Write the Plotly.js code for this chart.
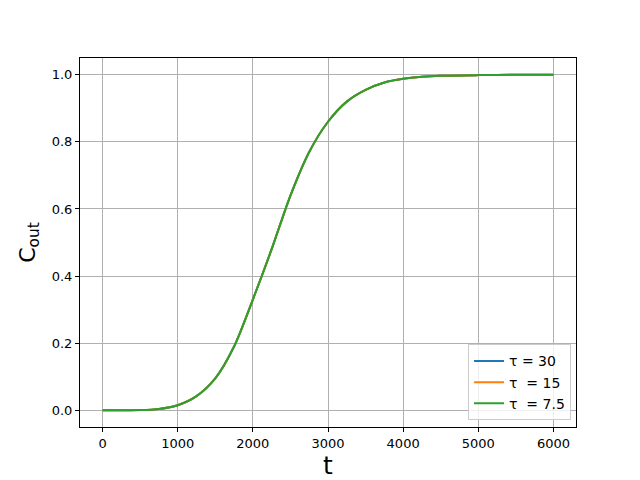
<!DOCTYPE html>
<html>
<head>
<meta charset="utf-8">
<script src="https://cdn.plot.ly/plotly-3.0.1.min.js"></script>
<style>html,body{margin:0;padding:0;background:#fff;}#chart{width:640px;height:480px;}</style>
</head>
<body>
<div id="chart"></div>
<script>
var t = [0, 250, 500, 750, 1000, 1250, 1500, 1750, 2000, 2250, 2500, 2750, 3000, 3250, 3500, 3750, 4000, 4250, 4500, 5000, 5500, 6000];
var cTau30  = [0, 0, 0.0005, 0.004, 0.015, 0.042, 0.095, 0.19, 0.33, 0.48, 0.64, 0.77, 0.86, 0.92, 0.955, 0.977, 0.988, 0.994, 0.997, 0.999, 1.0, 1.0];
var cTau15  = [0, 0, 0.0005, 0.004, 0.015, 0.042, 0.095, 0.19, 0.33, 0.48, 0.64, 0.77, 0.86, 0.92, 0.955, 0.977, 0.988, 0.994, 0.997, 0.999, 1.0, 1.0];
var cTau7_5 = [0, 0, 0.0005, 0.004, 0.015, 0.042, 0.095, 0.19, 0.33, 0.48, 0.64, 0.77, 0.86, 0.92, 0.955, 0.977, 0.988, 0.994, 0.997, 0.999, 1.0, 1.0];
var names = ["τ = 30", "τ\u00a0 = 15", "τ\u00a0 = 7.5"];
var colors = ["#1f77b4", "#ff7f0e", "#2ca02c"];
var series = [cTau30, cTau15, cTau7_5];

var data = series.map(function (ys, i) {
  return {
    x: t, y: ys, name: names[i], type: "scatter", mode: "lines",
    line: {color: colors[i], width: 2, shape: "spline", smoothing: 0.8}
  };
});

var axisCommon = {
  showline: true, mirror: true, linecolor: "#000", linewidth: 1,
  ticks: "outside", ticklen: 4, tickcolor: "#000", tickwidth: 1,
  showgrid: true, gridcolor: "#b0b0b0", gridwidth: 1, zeroline: false,
  tickfont: {family: "DejaVu Sans", size: 13, color: "#000"}
};

var layout = {
  width: 640, height: 480,
  paper_bgcolor: "#fff", plot_bgcolor: "#fff",
  margin: {l: 80, r: 64, t: 58, b: 53},
  showlegend: true,
  xaxis: Object.assign({}, axisCommon, {
    range: [-300, 6300], tickvals: [0, 1000, 2000, 3000, 4000, 5000, 6000],
    ticktext: ["0", "1000", "2000", "3000", "4000", "5000", "6000"],
    title: {text: "t", font: {family: "DejaVu Sans", size: 25, color: "#000"}, standoff: 6}
  }),
  yaxis: Object.assign({}, axisCommon, {
    range: [-0.05, 1.05], tickvals: [0, 0.2, 0.4, 0.6, 0.8, 1.0],
    ticktext: ["0.0", "0.2", "0.4", "0.6", "0.8", "1.0"],
    title: {text: "C<sub>out</sub>", font: {family: "DejaVu Sans", size: 22, color: "#000"}, standoff: 10}
  }),
  legend: {
    x: 0.99, y: 0.018, xanchor: "right", yanchor: "bottom",
    bgcolor: "rgba(255,255,255,0.8)", bordercolor: "#cccccc", borderwidth: 1,
    font: {family: "DejaVu Sans", size: 14, color: "#000"},
    tracegroupgap: 0
  }
};

Plotly.newPlot("chart", data, layout, {displayModeBar: false, staticPlot: true});
</script>
</body>
</html>
